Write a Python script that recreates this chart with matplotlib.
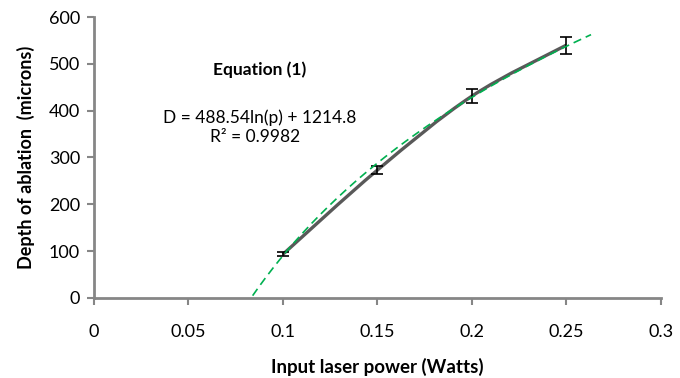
import numpy as np
import matplotlib
matplotlib.use('Agg')
from matplotlib import pyplot as plt
from matplotlib.path import Path
from matplotlib.patches import PathPatch

matplotlib.rcParams['font.family'] = ['Lato', 'DejaVu Sans']

# measured data
power = [0.1, 0.15, 0.2, 0.25]
depth = [93, 273, 431, 540]
depth_err = [4, 9, 15, 18]

# logarithmic trendline shown on the chart
fit_a = 488.54
fit_b = 1214.8
fit_range = [0.084, 0.263]

xticks = [0, 0.05, 0.1, 0.15, 0.2, 0.25, 0.3]
xticklabels = ['0', '0.05', '0.1', '0.15', '0.2', '0.25', '0.3']
yticks = [0, 100, 200, 300, 400, 500, 600]

fig = plt.figure(figsize=(6.8, 3.78), dpi=100)
ax = fig.add_axes([0.138, 0.212, 0.834, 0.743])

# smoothed line through the points (catmull-rom as bezier)
x = np.array(power)
y = np.array(depth, dtype=float)
pts = np.column_stack([x, y])
verts = [pts[0]]
codes = [Path.MOVETO]
for i in range(len(pts) - 1):
    p0 = pts[i - 1] if i > 0 else pts[i]
    p1 = pts[i]
    p2 = pts[i + 1]
    p3 = pts[i + 2] if i + 2 < len(pts) else pts[i + 1]
    c1 = p1 + (p2 - p0) / 6.0
    c2 = p2 - (p3 - p1) / 6.0
    verts += [c1, c2, p2]
    codes += [Path.CURVE4] * 3
ax.add_patch(PathPatch(Path(verts, codes), facecolor='none', edgecolor='#595959',
                       lw=2.4, zorder=3))

ax.errorbar(power, depth, yerr=depth_err, fmt='none', ecolor='black',
            elinewidth=1.2, capsize=4, capthick=1.2, zorder=4)

xf = np.linspace(fit_range[0], fit_range[1], 200)
ax.plot(xf, fit_a * np.log(xf) + fit_b, color='#00b050', lw=1.2,
        ls=(0, (5, 3)), zorder=5)

ax.set_xlim(0, 0.3)
ax.set_ylim(0, 600)
ax.set_xticks(xticks)
ax.set_xticklabels(xticklabels)
ax.set_yticks(yticks)

for s in ['top', 'right']:
    ax.spines[s].set_visible(False)
for s in ['left', 'bottom']:
    ax.spines[s].set_color('#868686')
    ax.spines[s].set_linewidth(2)
ax.tick_params(axis='both', colors='#868686', width=1.5, length=5,
               labelcolor='black', labelsize=13)
ax.tick_params(axis='x', pad=14)
ax.tick_params(axis='y', pad=5)

ax.set_xlabel('Input laser power (Watts)', fontsize=13.5, fontweight='bold',
              labelpad=13)
ax.set_ylabel('Depth of ablation  (microns)', fontsize=13, fontweight='bold',
              labelpad=10)

ax.text(0.0878, 487, 'Equation (1)', fontsize=12.5, fontweight='bold',
        ha='center', va='center')
ax.text(0.0875, 384, 'D = 488.54ln(p) + 1214.8', fontsize=12.5,
        ha='center', va='center')
ax.text(0.0855, 344, 'R² = 0.9982', fontsize=12.5, ha='center', va='center')

fig.savefig('out.png', dpi=100)
